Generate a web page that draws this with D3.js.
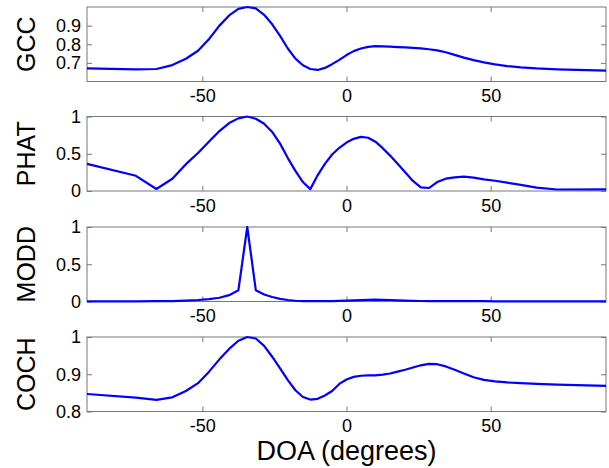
<!DOCTYPE html>
<html lang="en">
<head>
	<meta charset="UTF-8">
	<title>DOA comparison</title>
	<script src="https://d3js.org/d3.v7.min.js"></script>
	<style>
		body { margin: 0; background: #fff; }
		text { font-family: "Liberation Sans", Arial, Helvetica, sans-serif; }
	</style>
</head>
<body>
	<script type="text/javascript">

		// DOA sample angles (degrees)
		var doa = [-90, -73.04, -65.94, -60.41, -55.70, -51.50, -47.66, -44.07, -40.71, -37.50,
			-34.42, -31.45, -28.57, -25.77, -23.04, -20.35, -17.72, -15.12, -12.56, -10.02,
			-7.50, -4.99, -2.49, 0, 2.49, 4.99, 7.50, 10.02, 12.56, 15.12, 17.72, 20.35,
			23.04, 25.77, 28.57, 31.45, 34.42, 37.50, 40.71, 44.07, 47.66, 51.50, 55.70,
			60.41, 65.94, 73.04, 90];

		var gcc = [0.671, 0.665, 0.667, 0.688, 0.722, 0.765, 0.828, 0.900, 0.955, 0.990,
			1.000, 0.993, 0.958, 0.907, 0.845, 0.777, 0.723, 0.687, 0.667, 0.662,
			0.673, 0.693, 0.716, 0.742, 0.763, 0.777, 0.786, 0.790, 0.789, 0.787, 0.785, 0.783,
			0.781, 0.778, 0.773, 0.767, 0.757, 0.743, 0.728, 0.715, 0.703, 0.692, 0.683,
			0.676, 0.670, 0.665, 0.658];

		var phat = [0.364, 0.204, 0.027, 0.164, 0.360, 0.510, 0.663, 0.805, 0.912, 0.975,
			1.000, 0.970, 0.902, 0.793, 0.636, 0.442, 0.270, 0.120, 0.025, 0.210,
			0.364, 0.490, 0.580, 0.650, 0.700, 0.726, 0.715, 0.662, 0.575, 0.475, 0.366, 0.253,
			0.135, 0.048, 0.040, 0.120, 0.165, 0.183, 0.194, 0.180, 0.157, 0.138, 0.112,
			0.082, 0.045, 0.020, 0.021];

		var modd = [0.003, 0.003, 0.004, 0.006, 0.012, 0.020, 0.032, 0.050, 0.085, 0.150,
			1.000, 0.150, 0.095, 0.060, 0.035, 0.020, 0.010, 0.006, 0.005, 0.005,
			0.005, 0.006, 0.008, 0.011, 0.015, 0.019, 0.022, 0.024, 0.023, 0.020, 0.016, 0.012,
			0.009, 0.007, 0.005, 0.004, 0.004, 0.004, 0.004, 0.004, 0.004, 0.003, 0.003,
			0.003, 0.003, 0.003, 0.003];

		var coch = [0.847, 0.837, 0.831, 0.838, 0.855, 0.876, 0.907, 0.940, 0.968, 0.990,
			1.000, 0.996, 0.976, 0.947, 0.916, 0.884, 0.857, 0.839, 0.832, 0.834,
			0.843, 0.855, 0.874, 0.886, 0.893, 0.896, 0.897, 0.897, 0.899, 0.902, 0.907, 0.912,
			0.918, 0.924, 0.928, 0.927, 0.921, 0.912, 0.902, 0.892, 0.885, 0.881, 0.878,
			0.876, 0.874, 0.872, 0.869];

		var xTicks = [-50, 0, 50];

		var panels = [
			{name: "GCC",  values: gcc,  domain: [0.6, 1.0], ticks: [0.7, 0.8, 0.9]},
			{name: "PHAT", values: phat, domain: [0, 1],     ticks: [0, 0.5, 1]},
			{name: "MODD", values: modd, domain: [0, 1],     ticks: [0, 0.5, 1]},
			{name: "COCH", values: coch, domain: [0.8, 1.0], ticks: [0.8, 0.9, 1]}
		];

		var w = 609, h = 468;
		var left = 87, right = 606;
		var tops = [7, 116.5, 227, 337];
		var ph = 74.5;

		var svg = d3.select("body").append("svg")
			.attr("width", w)
			.attr("height", h);

		var x = d3.scaleLinear().domain([-90, 90]).range([left, right]);

		// plain hyphen for negatives, like the original figure
		function fmt(d) {
			return String(d);
		}

		panels.forEach(function(p, i) {
			var top = tops[i];
			var y = d3.scaleLinear().domain(p.domain).range([top + ph, top]);
			var g = svg.append("g");

			// box
			g.append("rect")
				.attr("x", left).attr("y", top)
				.attr("width", right - left).attr("height", ph)
				.attr("fill", "none").attr("stroke", "#777").attr("stroke-width", 1);

			var xb = g.append("g")
				.attr("transform", "translate(0," + (top + ph) + ")")
				.call(d3.axisBottom(x).tickValues(xTicks).tickSize(-5).tickPadding(8).tickFormat(fmt));
			var xt = g.append("g")
				.attr("transform", "translate(0," + top + ")")
				.call(d3.axisTop(x).tickValues(xTicks).tickSize(-5).tickFormat(""));
			var yl = g.append("g")
				.attr("transform", "translate(" + left + ",0)")
				.call(d3.axisLeft(y).tickValues(p.ticks).tickSize(-5).tickPadding(6).tickFormat(fmt));
			var yr = g.append("g")
				.attr("transform", "translate(" + right + ",0)")
				.call(d3.axisRight(y).tickValues(p.ticks).tickSize(-5).tickFormat(""));

			[xb, xt, yl, yr].forEach(function(a) {
				a.select(".domain").remove();
				a.selectAll("line").attr("stroke", "#777");
				a.selectAll("text").attr("fill", "#000").style("font-size", "18px")
					.style("font-family", "'Liberation Sans', Arial, sans-serif");
			});

			var line = d3.line()
				.x(function(d, k) { return x(doa[k]); })
				.y(function(d) { return y(d); });

			g.append("path")
				.datum(p.values)
				.attr("d", line)
				.attr("fill", "none")
				.attr("stroke", "#0000ff")
				.attr("stroke-width", 2.2)
				.attr("stroke-linejoin", "round");

			g.append("text")
				.attr("transform", "translate(35," + (top + ph / 2) + ") rotate(-90)")
				.attr("text-anchor", "middle")
				.style("font-size", "25px")
				.text(p.name);
		});

		svg.append("text")
			.attr("x", (left + right) / 2)
			.attr("y", 460)
			.attr("text-anchor", "middle")
			.style("font-size", "27px")
			.text("DOA (degrees)");

	</script>
</body>
</html>
